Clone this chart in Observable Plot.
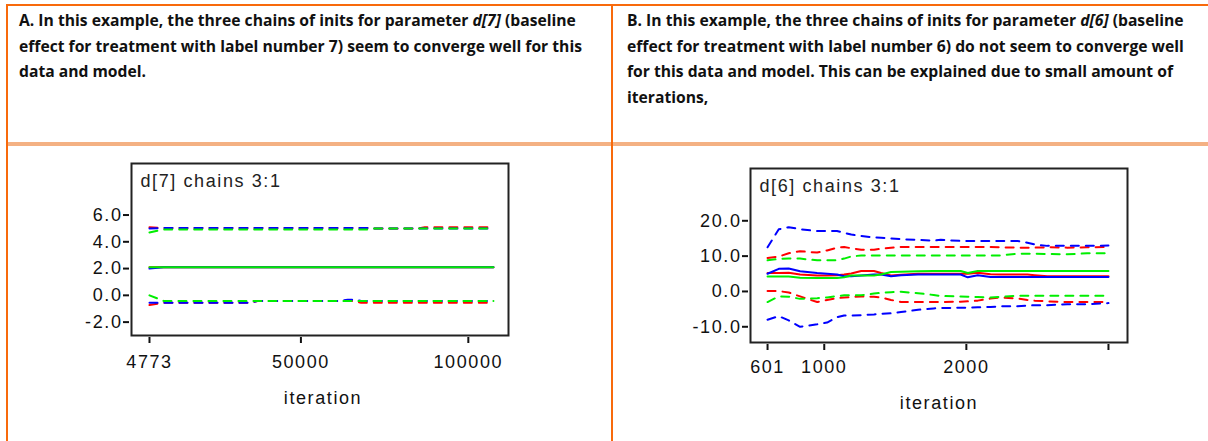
<!DOCTYPE html>
<html><head><meta charset="utf-8">
<script src="https://cdn.jsdelivr.net/npm/d3@7"></script>
<script src="https://cdn.jsdelivr.net/npm/@observablehq/plot@0.6"></script>
<style>
html,body{margin:0;padding:0;background:#fff;width:1208px;height:441px;overflow:hidden;}
#page{position:relative;width:1208px;height:441px;}
.rule{position:absolute;}
.hdr{position:absolute;font-family:"Open Sans",Lato,sans-serif;font-weight:700;line-height:25.7px;color:#111;white-space:nowrap;font-size:13.5px;}
.chart{position:absolute;}
</style></head><body><div id="page"></div>
<script>
// ---------- header texts (segments wrapped in * are italic) ----------
const headerA = [
  "A. In this example, the three chains of inits for parameter *d[7]* (baseline",
  "effect for treatment with label number 7) seem to converge well for this",
  "data and model."
];
const headerB = [
  "B. In this example, the three chains of inits for parameter *d[6]* (baseline",
  "effect for treatment with label number 6) do not seem to converge well",
  "for this data and model. This can be explained due to small amount of",
  "iterations,"
];

// ---------- chart A: d[7] ----------
const titleA = "d[7] chains 3:1";
const xTicksA = [4773, 50000, 100000];
const xTickLabelsA = ["4773", "50000", "100000"];
const yTicksA = [-2, 0, 2, 4, 6];
const iterA = [4773, 9000, 35000, 37000, 62000, 64000, 66000, 68000, 70000, 72000, 85000, 87000, 107500];
const A_upper_blue  = [5.00, 5.03, 5.03, 5.03, 5.03, 5.03, 5.03, 5.03, 5.03, 5.00, 5.00, 5.00, 5.00];
const A_upper_red   = [5.08, 5.03, 5.03, 5.03, 5.03, 5.03, 5.03, 5.03, 5.03, 5.00, 5.00, 5.08, 5.08];
const A_upper_green = [4.70, 4.92, 4.92, 4.92, 4.92, 4.92, 4.92, 4.92, 4.92, 5.00, 5.00, 5.00, 5.00];
const A_med_blue    = [2.00, 2.10, 2.10, 2.10, 2.10, 2.10, 2.10, 2.10, 2.10, 2.10, 2.10, 2.10, 2.10];
const A_med_red     = [2.10, 2.10, 2.10, 2.10, 2.10, 2.10, 2.10, 2.10, 2.10, 2.10, 2.10, 2.10, 2.10];
const A_med_green   = [2.10, 2.10, 2.10, 2.10, 2.10, 2.10, 2.10, 2.10, 2.10, 2.10, 2.10, 2.10, 2.10];
const A_lower_blue  = [-0.55, -0.55, -0.55, -0.42, -0.42, -0.32, -0.32, -0.42, -0.42, -0.42, -0.42, -0.42, -0.42];
const A_lower_red   = [-0.72, -0.55, -0.55, -0.42, -0.42, -0.42, -0.42, -0.56, -0.56, -0.56, -0.56, -0.56, -0.56];
const A_lower_green = [0.00, -0.42, -0.42, -0.42, -0.42, -0.42, -0.42, -0.42, -0.42, -0.42, -0.42, -0.42, -0.42];

// ---------- chart B: d[6] ----------
const titleB = "d[6] chains 3:1";
const xTicksB = [601, 1000, 2000, 3000];
const xTickLabelsB = ["601", "1000", "2000", ""];
const yTicksB = [-10, 0, 10, 20];
const iterB = [601, 680, 750, 830, 950, 1020, 1090, 1140, 1190, 1260, 1350, 1400, 1470, 1540, 1660, 1770, 1820, 1960, 2010, 2080, 2170, 2240, 2360, 2430, 2480, 2570, 2710, 2850, 3000];
const B_upper_blue  = [12.5, 17.6, 18.2, 17.6, 17.1, 17.1, 17.1, 16.6, 16.1, 15.7, 15.3, 15.2, 15.0, 14.8, 14.6, 14.4, 14.6, 14.3, 14.3, 14.3, 14.3, 14.3, 14.3, 13.8, 13.3, 12.9, 12.9, 12.9, 13.0];
const B_upper_red   = [9.5, 9.9, 10.8, 11.4, 11.0, 11.6, 12.4, 12.6, 12.2, 11.8, 11.8, 12.1, 12.4, 12.6, 12.6, 12.6, 12.6, 12.6, 12.6, 12.6, 12.6, 12.5, 12.4, 12.4, 12.4, 12.5, 12.4, 12.5, 12.6];
const B_upper_green = [8.8, 9.2, 9.3, 9.3, 8.8, 8.8, 8.8, 9.3, 9.9, 10.2, 10.2, 10.2, 10.2, 10.2, 10.2, 10.2, 10.2, 10.2, 10.2, 10.2, 10.2, 10.2, 10.7, 10.7, 10.7, 10.6, 10.5, 10.8, 10.8];
const B_med_blue    = [5.0, 6.4, 6.5, 5.7, 5.2, 5.0, 4.8, 4.3, 4.3, 4.5, 4.8, 4.8, 4.3, 4.6, 4.8, 4.8, 4.8, 4.8, 4.0, 4.6, 4.1, 4.1, 4.1, 4.1, 4.1, 4.1, 4.1, 4.1, 4.1];
const B_med_red     = [5.2, 5.2, 5.3, 4.8, 4.5, 4.5, 4.6, 4.8, 5.1, 5.8, 5.8, 5.2, 4.5, 4.7, 5.0, 5.0, 5.0, 5.0, 5.0, 5.3, 4.9, 4.8, 4.8, 4.8, 4.6, 4.3, 4.3, 4.3, 4.3];
const B_med_green   = [4.2, 4.2, 4.2, 3.9, 3.8, 3.8, 3.8, 4.0, 4.5, 4.5, 4.5, 4.8, 5.5, 5.6, 5.7, 5.8, 5.8, 5.8, 5.2, 5.8, 5.8, 5.8, 5.8, 5.8, 5.8, 5.8, 5.8, 5.8, 5.8];
const B_lower_blue  = [-8.0, -7.0, -8.2, -10.0, -9.3, -8.8, -7.3, -6.8, -6.8, -6.7, -6.5, -6.3, -6.2, -5.8, -5.2, -4.8, -4.7, -4.6, -4.6, -4.5, -4.4, -4.2, -4.2, -4.0, -3.9, -3.9, -3.6, -3.6, -3.3];
const B_lower_red   = [0.1, 0.1, -0.3, -1.4, -3.0, -2.4, -1.9, -1.7, -1.6, -1.4, -1.5, -1.7, -2.4, -3.0, -3.0, -3.0, -3.0, -2.9, -2.8, -2.6, -2.0, -1.7, -2.0, -2.4, -2.6, -2.8, -3.0, -3.0, -3.0];
const B_lower_green = [-3.0, -1.4, -1.5, -2.1, -1.9, -1.7, -1.3, -1.1, -1.1, -1.1, -0.6, -0.4, -0.2, -0.1, -0.5, -1.0, -1.3, -1.4, -1.5, -1.6, -1.7, -1.5, -1.2, -1.2, -1.2, -1.2, -1.2, -1.2, -1.2];

const chainColors = {blue: "#0000ff", red: "#ff0000", green: "#00ee00"};
const drawOrder = ["red", "blue", "green"];

// ---------- page frame (table borders) ----------
const page = document.getElementById("page");
function rule(l, t, w, h, c, z) {
  const d = document.createElement("div");
  d.className = "rule";
  Object.assign(d.style, {left: l + "px", top: t + "px", width: w + "px", height: h + "px", background: c, zIndex: z});
  page.appendChild(d);
}
const dark = "#f86a0c", light = "#f4b183";
rule(8, 142, 1200, 4, light, 1);
rule(6, 4, 1202, 2, dark, 2);
rule(6, 4, 2, 437, dark, 2);
rule(611, 4, 2, 437, dark, 2);

// ---------- header text ----------
function header(lines, left) {
  const d = document.createElement("div");
  d.className = "hdr";
  d.style.left = left + "px";
  d.style.top = "8px";
  lines.forEach(line => {
    const ld = document.createElement("div");
    line.split("*").forEach((seg, i) => {
      const s = document.createElement(i % 2 ? "i" : "span");
      s.textContent = seg;
      ld.appendChild(s);
    });
    d.appendChild(ld);
  });
  page.appendChild(d);
  return d;
}
const hA = header(headerA, 19);
const hB = header(headerB, 627);
function fitHeaders() {
  const r = document.createRange();
  r.selectNodeContents(hA.firstChild);
  const w = r.getBoundingClientRect().width;
  const cur = parseFloat(getComputedStyle(hA).fontSize);
  if (w > 0) {
    const size = Math.max(10, Math.min(20, cur * 557 / w));
    hA.style.fontSize = size.toFixed(2) + "px";
    hB.style.fontSize = size.toFixed(2) + "px";
  }
}
fitHeaders();
if (document.fonts && document.fonts.ready) document.fonts.ready.then(fitHeaders);

// ---------- charts ----------
function rows(iters, vals) { return iters.map((it, i) => ({iter: it, value: vals[i]})); }

function chart(cfg) {
  const lineMarks = [];
  drawOrder.forEach(c => {
    ["upper", "lower", "median"].forEach(q => {
      lineMarks.push(Plot.line(rows(cfg.iters, cfg.series[q][c]), {
        x: "iter", y: "value", stroke: chainColors[c], strokeWidth: 2,
        strokeDasharray: q === "median" ? undefined : "8,7"
      }));
    });
  });
  const svg = Plot.plot({
    width: cfg.width, height: cfg.height,
    marginLeft: cfg.ml, marginRight: cfg.mr, marginTop: cfg.mt, marginBottom: cfg.mb,
    x: {domain: cfg.xDomain},
    y: {domain: cfg.yDomain},
    style: {fontFamily: "'Liberation Sans', Arial, sans-serif", fontSize: "18px", letterSpacing: "1.6px", color: "#111", background: "transparent", overflow: "visible"},
    marks: [
      ...lineMarks,
      Plot.frame({stroke: "#222", strokeWidth: 2}),
      Plot.axisX({ticks: cfg.xTicks, tickFormat: d => cfg.xLabels[cfg.xTicks.indexOf(d)], tickSize: 6, tickPadding: cfg.xPad, dy: 2, strokeWidth: 2, color: "#111", label: null}),
      Plot.axisY({ticks: cfg.yTicks, tickFormat: d => d.toFixed(1), tickSize: 6, tickPadding: 1, dx: -2, strokeWidth: 2, color: "#111", label: null}),
      Plot.text([cfg.title], {frameAnchor: "top-left", textAnchor: "start", lineAnchor: "middle", dx: 9, dy: 18, fill: "#222"}),
      Plot.text(["iteration"], {frameAnchor: "bottom", lineAnchor: "middle", dx: cfg.labelDx, dy: cfg.labelDy, fill: "#111"})
    ]
  });
  const holder = document.createElement("div");
  holder.className = "chart";
  holder.style.left = cfg.left + "px";
  holder.style.top = cfg.top + "px";
  holder.appendChild(svg);
  page.appendChild(holder);
}

chart({
  left: 60, top: 150, width: 480, height: 270, ml: 71, mr: 32, mt: 13, mb: 85,
  xDomain: [-600, 112000], yDomain: [-3.0, 9.85],
  xTicks: xTicksA, xLabels: xTickLabelsA, yTicks: yTicksA, xPad: 12,
  title: titleA, labelDx: 3, labelDy: 63, iters: iterA,
  series: {
    upper: {blue: A_upper_blue, red: A_upper_red, green: A_upper_green},
    median: {blue: A_med_blue, red: A_med_red, green: A_med_green},
    lower: {blue: A_lower_blue, red: A_lower_red, green: A_lower_green}
  }
});
chart({
  left: 680, top: 150, width: 480, height: 275, ml: 70, mr: 33, mt: 18, mb: 83,
  xDomain: [481, 3134], yDomain: [-14.45, 34.8],
  xTicks: xTicksB, xLabels: xTickLabelsB, yTicks: yTicksB, xPad: 10,
  title: titleB, labelDx: 0, labelDy: 61, iters: iterB,
  series: {
    upper: {blue: B_upper_blue, red: B_upper_red, green: B_upper_green},
    median: {blue: B_med_blue, red: B_med_red, green: B_med_green},
    lower: {blue: B_lower_blue, red: B_lower_red, green: B_lower_green}
  }
});
</script></body></html>
